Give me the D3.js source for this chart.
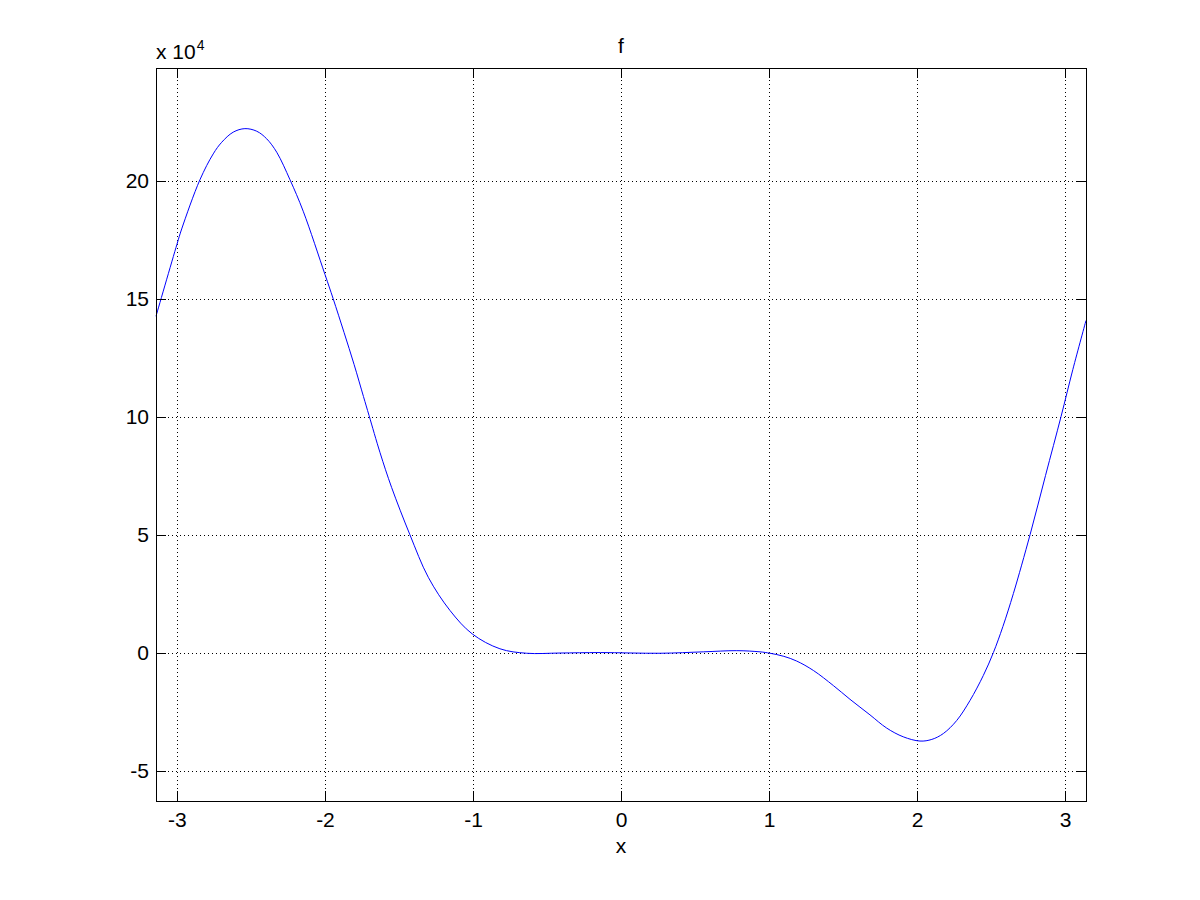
<!DOCTYPE html>
<html>
<head>
<meta charset="utf-8">
<script src="https://cdn.jsdelivr.net/npm/d3@7"></script>
<style>
  html, body { margin: 0; padding: 0; background: #fff; }
  svg { display: block; font-family: Arial, "Liberation Sans", Helvetica, sans-serif; }
</style>
</head>
<body>
<svg id="chart" width="1200" height="900"></svg>
<script>
const xValues = [-3.1416, -3.0, -2.968, -2.845, -2.755, -2.698, -2.62, -2.541, -2.461, -2.394,
  -2.326, -2.236, -2.147, -2.0, -1.945, -1.871, -1.803, -1.74, -1.702, -1.628, -1.55, -1.426,
  -1.302, -1.155, -1.005, -0.818, -0.637, -0.412, -0.14, 0.264, 0.556, 0.782, 0.939, 1.007,
  1.1, 1.187, 1.3, 1.435, 1.547, 1.682, 1.795, 1.907, 2.02, 2.1, 2.178, 2.268, 2.358, 2.448, 2.516,
  2.58, 2.651, 2.764, 2.868, 2.973, 3.053, 3.1416];
const yValues = [142500, 173000, 179500, 200300, 211300, 216200, 220500, 222000, 220900, 217700,
  212000, 200300, 187000, 160200, 150000, 135600, 122000, 108500, 100400, 84700, 70000, 49900,
  31900, 17800, 7900, 1600, -300, -200, 0, -300, 300, 800, 300, -300,
  -1600, -3600, -7600, -14000, -19800, -26400, -32000, -35700, -37500, -36800, -34300, -28800, -20300, -9700, 0,
  11000, 25000, 50000, 75000, 100000, 120000, 140700];

const xTicks = [-3, -2, -1, 0, 1, 2, 3];
const yTicks = [-50000, 0, 50000, 100000, 150000, 200000];
const yExponent = 4;
const titleText = "f";
const xLabelText = "x";

const xDomain = [-Math.PI, Math.PI];
const yDomain = [-62900, 247900];

(function draw() {
  const svg = d3.select("#chart");
  const pL = 156, pR = 1086, pT = 67.5, pB = 801;
  const x = d3.scaleLinear().domain(xDomain).range([pL, pR]);
  const y = d3.scaleLinear().domain(yDomain).range([pB, pT]);

  const fontSize = 21;
  const tickLen = 10;

  // grid
  const grid = svg.append("g").attr("stroke", "#000").attr("stroke-width", 1)
    .attr("stroke-dasharray", "1,3").attr("shape-rendering", "crispEdges");
  xTicks.forEach(t => {
    grid.append("line").attr("x1", Math.round(x(t)) + 0.5).attr("x2", Math.round(x(t)) + 0.5)
      .attr("y1", pT).attr("y2", pB);
  });
  yTicks.forEach(t => {
    grid.append("line").attr("y1", Math.round(y(t)) + 0.5).attr("y2", Math.round(y(t)) + 0.5)
      .attr("x1", pL).attr("x2", pR);
  });

  // curve
  const pts = xValues.map((v, i) => [v, yValues[i]]);
  const line = d3.line().x(d => x(d[0])).y(d => y(d[1])).curve(d3.curveCatmullRom.alpha(0.5));
  svg.append("path").datum(pts).attr("d", line).attr("fill", "none")
    .attr("stroke", "#0000ff").attr("stroke-width", 1);

  // axes with inward ticks
  const fmtY = d => String(Math.round(d / Math.pow(10, yExponent)));
  const fmtX = d => String(d);
  const axB = svg.append("g").attr("transform", `translate(0,${pB})`)
    .call(d3.axisBottom(x).tickValues(xTicks).tickSizeInner(-tickLen).tickSizeOuter(0).tickPadding(11).tickFormat(fmtX));
  const axT = svg.append("g").attr("transform", `translate(0,${pT})`)
    .call(d3.axisTop(x).tickValues(xTicks).tickSizeInner(-tickLen).tickSizeOuter(0).tickFormat(""));
  const axL = svg.append("g").attr("transform", `translate(${pL},0)`)
    .call(d3.axisLeft(y).tickValues(yTicks).tickSizeInner(-tickLen).tickSizeOuter(0).tickPadding(7).tickFormat(fmtY));
  const axR = svg.append("g").attr("transform", `translate(${pR},0)`)
    .call(d3.axisRight(y).tickValues(yTicks).tickSizeInner(-tickLen).tickSizeOuter(0).tickFormat(""));
  [axB, axT, axL, axR].forEach(a => {
    a.select(".domain").remove();
    a.selectAll("line").attr("stroke", "#000").attr("shape-rendering", "crispEdges");
    a.selectAll("text").attr("font-size", fontSize).attr("fill", "#000")
      .attr("font-family", "Arial, 'Liberation Sans', sans-serif");
  });

  // box
  svg.append("rect").attr("x", pL + 0.5).attr("y", Math.round(pT) + 0.5)
    .attr("width", pR - pL).attr("height", Math.round(pB) - Math.round(pT))
    .attr("fill", "none").attr("stroke", "#000").attr("stroke-width", 1)
    .attr("shape-rendering", "crispEdges");

  // exponent label
  const ex = svg.append("text").attr("x", pL).attr("y", 58.5).attr("font-size", fontSize).attr("fill", "#000");
  ex.append("tspan").text("x 10");
  ex.append("tspan").attr("dy", -9).attr("dx", 1).attr("font-size", 14).text(String(yExponent));

  // title and x label
  svg.append("text").attr("x", (pL + pR) / 2).attr("y", 52.5).attr("text-anchor", "middle")
    .attr("font-size", fontSize).attr("fill", "#000").text(titleText);
  svg.append("text").attr("x", (pL + pR) / 2).attr("y", 853).attr("text-anchor", "middle")
    .attr("font-size", fontSize).attr("fill", "#000").text(xLabelText);
})();
</script>
</body>
</html>
